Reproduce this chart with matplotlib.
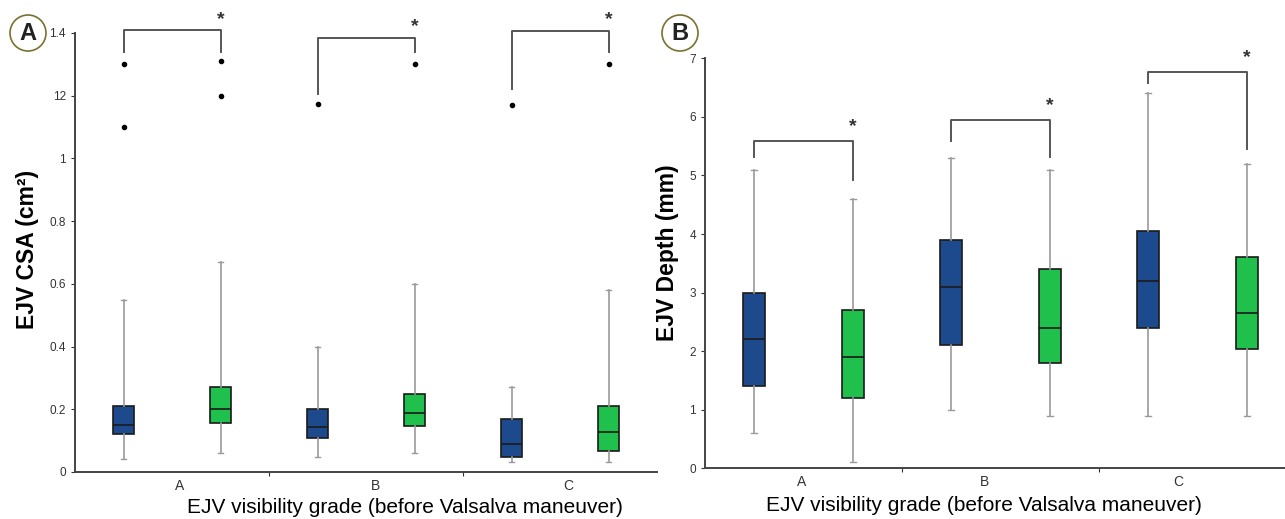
import numpy as np
import matplotlib
matplotlib.use('Agg')
import matplotlib.pyplot as plt
from matplotlib.patches import Ellipse

plt.rcParams['font.family'] = ['Liberation Sans', 'DejaVu Sans']

# 그룹 (방문 전 EJV 가시성 등급)
grades = ['A', 'B', 'C']

# 패널 A: EJV CSA (cm2)  - [q1, 중앙값, q3, 아래 수염, 위 수염]
csa_before = [[0.12, 0.15, 0.21, 0.04, 0.55],
              [0.107, 0.145, 0.20, 0.047, 0.40],
              [0.049, 0.09, 0.168, 0.031, 0.27]]
csa_after = [[0.155, 0.20, 0.27, 0.06, 0.67],
             [0.148, 0.188, 0.249, 0.06, 0.60],
             [0.068, 0.128, 0.21, 0.031, 0.58]]
csa_fliers_before = [[1.30, 1.10], [1.173], [1.17]]
csa_fliers_after = [[1.31, 1.20], [1.30], [1.30]]
# 괄호: [위, 왼쪽 다리 끝, 오른쪽 다리 끝]
csa_brackets = [[1.408, 1.338, 1.338], [1.385, 1.207, 1.338], [1.407, 1.22, 1.338]]
csa_ticks = [0, 0.2, 0.4, 0.6, 0.8, 1.0, 1.2, 1.4]
csa_ticklabels = ['0', '0.2', '0.4', '0.6', '0.8', '1', '12', '1.4']

# 패널 B: EJV Depth (mm)
depth_before = [[1.4, 2.2, 3.0, 0.6, 5.1],
                [2.1, 3.1, 3.9, 1.0, 5.3],
                [2.4, 3.2, 4.05, 0.9, 6.4]]
depth_after = [[1.2, 1.9, 2.7, 0.1, 4.6],
               [1.8, 2.4, 3.4, 0.9, 5.1],
               [2.03, 2.65, 3.6, 0.9, 5.2]]
depth_brackets = [[5.58, 5.32, 4.92], [5.95, 5.58, 5.32], [6.77, 6.57, 5.46]]
depth_ticks = [0, 1, 2, 3, 4, 5, 6, 7]
depth_ticklabels = ['0', '1', '2', '3', '4', '5', '6', '7']

blue = '#1c4a8c'
green = '#1fc04c'
gray = '#9a9a9a'


def stats_of(rows, fliers=None):
    out = []
    for i, r in enumerate(rows):
        out.append(dict(q1=r[0], med=r[1], q3=r[2], whislo=r[3], whishi=r[4],
                        fliers=fliers[i] if fliers else []))
    return out


def draw_panel(ax, before, after, fb, fa, brackets, ticks, ticklabels, ylabel, ymax,
               star_pad, grade_pos, xlab_pos, ylab_pos):
    pos_b = [i + 0.25 for i in range(3)]
    pos_a = [i + 0.75 for i in range(3)]
    for st, pos, col in [(stats_of(before, fb), pos_b, blue), (stats_of(after, fa), pos_a, green)]:
        ax.bxp(st, positions=pos, widths=0.11, patch_artist=True, showfliers=True,
               capwidths=0.03,
               boxprops=dict(facecolor=col, edgecolor='#1a1a1a', linewidth=1.2),
               medianprops=dict(color='#1a1a1a', linewidth=1.2),
               whiskerprops=dict(color=gray, linewidth=1.2),
               capprops=dict(color=gray, linewidth=1.0),
               flierprops=dict(marker='o', markersize=3, markerfacecolor='black',
                               markeredgecolor='black'))
    # 유의성 괄호
    for i, (top, lb, rb) in enumerate(brackets):
        xl, xr = pos_b[i], pos_a[i]
        ax.plot([xl, xl, xr, xr], [lb, top, top, rb], color='#555555', lw=1.4,
                clip_on=False, zorder=3)
        ax.text(xr, top + star_pad, '*', ha='center', va='center', fontsize=14,
                fontweight='bold', color='#333333', clip_on=False)

    ax.set_xlim(0, 3)
    ax.set_ylim(0, ymax)
    ax.set_yticks(ticks)
    ax.set_yticklabels(ticklabels)
    ax.set_xticks([1, 2])
    ax.set_xticklabels([])
    ax.set_xticks(grade_pos, minor=True)
    ax.set_xticklabels(grades, minor=True)
    ax.tick_params(axis='x', which='major', length=3, direction='out', color='#333333')
    ax.tick_params(axis='x', which='minor', length=0, pad=5, labelsize=10, labelcolor='#333333')
    ax.tick_params(axis='y', length=3, direction='out', labelsize=8.5, labelcolor='#333333',
                   color='#333333')
    for s in ['top', 'right']:
        ax.spines[s].set_visible(False)
    for s in ['left', 'bottom']:
        ax.spines[s].set_color('#444444')
        ax.spines[s].set_linewidth(1.4)
    ax.set_xlabel('EJV visibility grade (before Valsalva maneuver)', fontsize=15, va='center')
    ax.xaxis.set_label_coords(*xlab_pos)
    ax.set_ylabel(ylabel, fontsize=16.5, fontweight='bold', va='center')
    ax.yaxis.set_label_coords(*ylab_pos)


fig = plt.figure(figsize=(12.85, 5.19), dpi=100)
ax1 = fig.add_axes([75 / 1285, 47 / 519, 582 / 1285, 439 / 519])
ax2 = fig.add_axes([705 / 1285, 50.7 / 519, 591 / 1285, 410 / 519])

draw_panel(ax1, csa_before, csa_after, csa_fliers_before, csa_fliers_after, csa_brackets,
           csa_ticks, csa_ticklabels, 'EJV CSA (cm²)', 1.4, 0.035,
           [0.54, 1.55, 2.54], (0.567, -0.082), (-0.081, 0.506))
draw_panel(ax2, depth_before, depth_after, None, None, depth_brackets,
           depth_ticks, depth_ticklabels, 'EJV Depth (mm)', 7, 0.25,
           [0.49, 1.42, 2.40], (0.472, -0.09), (-0.063, 0.525))

# 패널 라벨
for cx, cy, lab in [(28, 33, 'A'), (680, 33, 'B')]:
    fig.patches.append(Ellipse((cx / 1285, 1 - cy / 519), 36 / 1285, 36 / 519,
                               transform=fig.transFigure, fill=False,
                               edgecolor='#7a7030', linewidth=1.2))
    fig.text(cx / 1285, 1 - cy / 519, lab, ha='center', va='center', fontsize=17,
             fontweight='bold', color='#222222',
             family=['Liberation Sans Narrow', 'Liberation Sans', 'DejaVu Sans'])

fig.savefig('out.png', dpi=100)
